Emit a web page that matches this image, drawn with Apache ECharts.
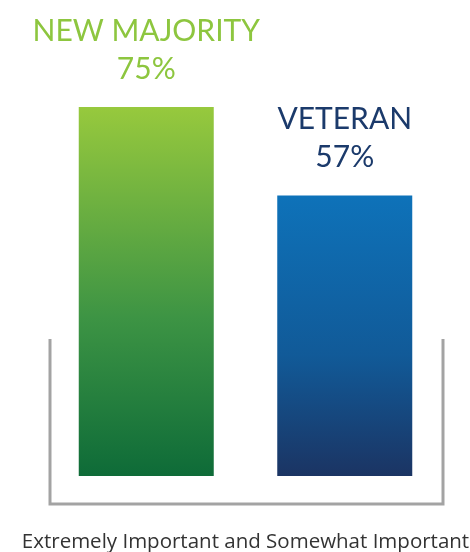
<!DOCTYPE html>
<html><head><meta charset="utf-8">
<script src="https://cdn.jsdelivr.net/npm/echarts@6/dist/echarts.min.js"></script>
<style>html,body{margin:0;padding:0;background:#fff}#c{width:470px;height:552px}</style>
</head><body><div id="c"></div>
<script>
const categories = ['NEW MAJORITY', 'VETERAN'];
const values = [75, 57];
const axisTitle = 'Extremely Important and Somewhat Important';

const grads = [
  ['#97c93d', '#3d9444', '#0e6b38'],
  ['#0e72b9', '#115a98', '#1b3463']
];
const labelColors = ['#8dc63f', '#1b3a6b'];

const chart = echarts.init(document.getElementById('c'));
chart.setOption({
  animation: false,
  grid: { left: 47, right: 26, top: 107, bottom: 76, outerBoundsMode: 'none', containLabel: false },
  xAxis: {
    type: 'category', data: categories,
    axisLine: { show: false }, axisTick: { show: false }, axisLabel: { show: false },
    name: axisTitle, nameLocation: 'middle', nameGap: 56,
    nameTextStyle: { fontFamily: 'Open Sans', fontSize: 20.5, color: '#333' }
  },
  yAxis: { type: 'value', min: 0, max: v => v.max, show: false, splitLine: { show: false } },
  series: [{
    type: 'bar', barWidth: 135,
    data: values.map((v, i) => ({
      value: v,
      itemStyle: { color: new echarts.graphic.LinearGradient(0, 0, 0, 1, [
        { offset: 0, color: grads[i][0] }, { offset: 0.57, color: grads[i][1] }, { offset: 1, color: grads[i][2] }
      ]) },
      label: { color: labelColors[i] }
    })),
    label: {
      show: true, position: 'top', distance: 19,
      fontFamily: 'Lato', fontSize: 30, lineHeight: 38,
      formatter: p => p.name + '\n' + p.value + '%'
    }
  }],
  graphic: [{
    type: 'polyline',
    shape: { points: [[50, 339], [50, 504], [443, 504], [443, 339]] },
    style: { stroke: '#a3a3a3', lineWidth: 3, fill: null }
  }]
});
</script></body></html>
